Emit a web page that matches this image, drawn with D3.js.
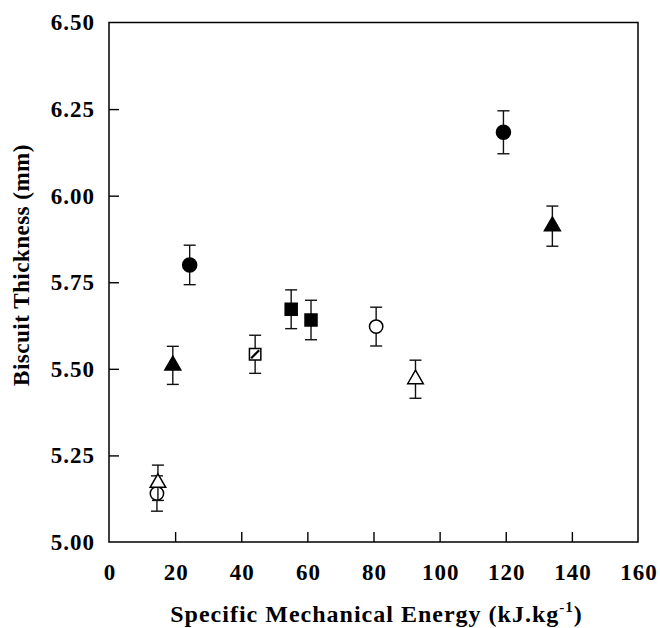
<!DOCTYPE html>
<html>
<head>
<meta charset="utf-8">
<script src="https://cdn.jsdelivr.net/npm/d3@7"></script>
<style>
  body { margin: 0; background: #fff; }
  text { font-family: "Liberation Serif", "Times New Roman", serif; font-weight: bold; fill: #000; }
</style>
</head>
<body>
<div id="chart"></div>
<script>
// values: SME (x), thickness (y), error half-width
var filledCircleX = [24.4, 119.3],  filledCircleY = [5.80, 6.183],  filledCircleE = [0.057, 0.062];
var filledTriX    = [19.3, 134.1],  filledTriY    = [5.51, 5.912],  filledTriE    = [0.055, 0.058];
var openCircleX   = [14.5, 80.8],   openCircleY   = [5.14, 5.622],  openCircleE   = [0.051, 0.056];
var openTriX      = [14.8, 92.7],   openTriY      = [5.171, 5.47],  openTriE      = [0.051, 0.055];
var filledSqX     = [55.1, 61.1],   filledSqY     = [5.672, 5.641], filledSqE     = [0.056, 0.057];
var hatchSqX      = [44.2],         hatchSqY      = [5.542],        hatchSqE      = [0.055];

var xTicks = [0, 20, 40, 60, 80, 100, 120, 140, 160];
var yTicks = [5.00, 5.25, 5.50, 5.75, 6.00, 6.25, 6.50];

var width = 660, height = 628;
var margin = {top: 22.5, right: 22, bottom: 86, left: 109};

var svg = d3.select("#chart").append("svg")
  .attr("width", width)
  .attr("height", height);

var x = d3.scaleLinear().domain([0, 160]).range([margin.left, width - margin.right]);
var y = d3.scaleLinear().domain([5, 6.5]).range([height - margin.bottom, margin.top]);

// axes with inward ticks
var xAxis = d3.axisBottom(x).tickValues(xTicks).tickSize(-10).tickPadding(22).tickFormat(d3.format("d"));
var yAxis = d3.axisLeft(y).tickValues(yTicks).tickSize(-10).tickPadding(14).tickFormat(d3.format(".2f"));

var gx = svg.append("g").attr("transform", "translate(0," + y(5) + ")").call(xAxis);
var gy = svg.append("g").attr("transform", "translate(" + x(0) + ",0)").call(yAxis);

[gx, gy].forEach(function(g) {
  g.select(".domain").remove();
  g.selectAll(".tick line").attr("stroke", "#000").attr("stroke-width", 1.4);
  g.selectAll(".tick text").style("font-size", "23px").style("letter-spacing", "1px");
});
gx.selectAll(".tick text").attr("dy", "0.71em").attr("dx", "0.5px");
gx.selectAll(".tick").filter(function(d) { return d === 0 || d === 160; }).select("line").remove();
gy.selectAll(".tick").filter(function(d) { return d === 5 || d === 6.5; }).select("line").remove();

// frame
svg.append("rect")
  .attr("x", x(0)).attr("y", y(6.5))
  .attr("width", x(160) - x(0)).attr("height", y(5) - y(6.5))
  .attr("fill", "none").attr("stroke", "#000").attr("stroke-width", 1.5);

// axis titles
var xt = svg.append("text")
  .attr("x", (x(0) + x(160)) / 2 + 3)
  .attr("y", 622)
  .attr("text-anchor", "middle")
  .style("font-size", "24px")
  .style("letter-spacing", "1px");
xt.append("tspan").text("Specific Mechanical Energy (kJ.kg");
xt.append("tspan").attr("dy", -10).style("font-size", "15px").text("-1");
xt.append("tspan").attr("dy", 10).text(")");

svg.append("text")
  .attr("transform", "translate(29," + 265 + ") rotate(-90)")
  .attr("text-anchor", "middle")
  .style("font-size", "23px")
  .style("letter-spacing", "0.5px")
  .text("Biscuit Thickness (mm)");

function toPoints(xs, ys, es) {
  return xs.map(function(v, i) { return {x: v, y: ys[i], e: es[i]}; });
}

var series = [
  {pts: toPoints(filledCircleX, filledCircleY, filledCircleE), shape: d3.symbolCircle, size: 155, fill: "#000"},
  {pts: toPoints(filledTriX, filledTriY, filledTriE), shape: d3.symbolTriangle, size: 110, fill: "#000"},
  {pts: toPoints(openCircleX, openCircleY, openCircleE), shape: d3.symbolCircle, size: 140, fill: "#fff"},
  {pts: toPoints(openTriX, openTriY, openTriE), shape: d3.symbolTriangle, size: 105, fill: "#fff"},
  {pts: toPoints(filledSqX, filledSqY, filledSqE), shape: d3.symbolSquare, size: 144, fill: "#000"},
  {pts: toPoints(hatchSqX, hatchSqY, hatchSqE), shape: d3.symbolSquare, size: 130, fill: "#fff", hatch: true}
];

var cap = 6;
series.forEach(function(s) {
  var g = svg.append("g");
  var bars = g.selectAll(".err").data(s.pts).enter().append("g")
    .attr("stroke", "#111").attr("stroke-width", 1.4);
  bars.append("line")
    .attr("x1", function(d) { return x(d.x); }).attr("x2", function(d) { return x(d.x); })
    .attr("y1", function(d) { return y(d.y - d.e); }).attr("y2", function(d) { return y(d.y + d.e); });
  bars.append("line")
    .attr("x1", function(d) { return x(d.x) - cap; }).attr("x2", function(d) { return x(d.x) + cap; })
    .attr("y1", function(d) { return y(d.y + d.e); }).attr("y2", function(d) { return y(d.y + d.e); });
  bars.append("line")
    .attr("x1", function(d) { return x(d.x) - cap; }).attr("x2", function(d) { return x(d.x) + cap; })
    .attr("y1", function(d) { return y(d.y - d.e); }).attr("y2", function(d) { return y(d.y - d.e); });

  g.selectAll(".pt").data(s.pts).enter().append("path")
    .attr("transform", function(d) { return "translate(" + x(d.x) + "," + y(d.y) + ")"; })
    .attr("d", d3.symbol().type(s.shape).size(s.size))
    .attr("fill", s.fill)
    .attr("stroke", "#000")
    .attr("stroke-width", 1.5);

  if (s.hatch) {
    g.selectAll(".hatch").data(s.pts).enter().append("line")
      .attr("x1", function(d) { return x(d.x) - 4; }).attr("y1", function(d) { return y(d.y) + 4; })
      .attr("x2", function(d) { return x(d.x) + 4; }).attr("y2", function(d) { return y(d.y) - 4; })
      .attr("stroke", "#000").attr("stroke-width", 2.2);
  }
});
</script>
</body>
</html>
